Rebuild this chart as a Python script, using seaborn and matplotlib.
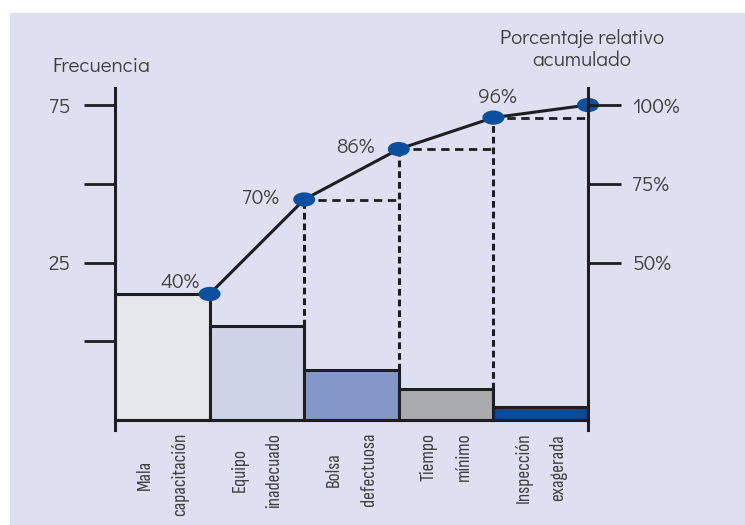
import numpy as np
import seaborn as sns
import matplotlib.pyplot as plt
from matplotlib.patches import Rectangle
from matplotlib.path import Path
from matplotlib.transforms import Affine2D

# datos del diagrama de Pareto
causas = ["Mala\ncapacitación", "Equipo\ninadecuado", "Bolsa\ndefectuosa",
          "Tiempo\nmínimo", "Inspección\nexagerada"]
frecuencia_pct = [40, 30, 16, 10, 4]
acumulado = [40, 70, 86, 96, 100]
etiquetas_acum = ["40%", "70%", "86%", "96%"]

ticks_izq = [25, 50, 75, 100]
etiquetas_izq = ["", "25", "", "75"]
ticks_der = [50, 75, 100]
etiquetas_der = ["50%", "75%", "100%"]

colores = ["#e6e7ea", "#cfd3e8", "#8597c6", "#a9aaac", "#0b4a97"]
fondo = "#dedff0"
tinta = "#1e1e1e"
texto = "#404040"
azul = "#0b4fa0"

sns.set_theme(style="white")
plt.rcParams["font.family"] = ["Didact Gothic", "Urbanist", "DejaVu Sans"]
estrecha = ["Sofia Sans Condensed", "DejaVu Sans"]
tam = 15

fig = plt.figure(figsize=(7.45, 5.25), dpi=100)
fig.patch.set_facecolor("white")
fig.add_artist(Rectangle((10 / 745, 0), 1 - 10 / 745, 1 - 13 / 525,
                         transform=fig.transFigure, facecolor=fondo,
                         edgecolor="none", zorder=0))

ax = fig.add_axes([115 / 745, 1 - 430 / 525, (588 - 115) / 745, (430 - 88) / 525])
ax.set_facecolor("none")

# barras
sns.barplot(x=causas, y=frecuencia_pct, hue=causas, palette=colores,
            width=1, saturation=1, edgecolor=tinta, linewidth=2.2,
            legend=False, ax=ax, zorder=2)

# bordes derechos de cada barra
xs = np.arange(len(causas)) + 0.5

# líneas discontinuas de referencia
for i in range(1, len(causas) - 1):
    ax.plot([xs[i], xs[i]], [frecuencia_pct[i], acumulado[i]], color=tinta,
            lw=2.2, ls=(0, (2.2, 1.3)), zorder=3)
    ax.plot([xs[i], xs[i + 1]], [acumulado[i], acumulado[i]], color=tinta,
            lw=2.0, ls=(0, (3, 2)), zorder=3)

# curva acumulada
sns.lineplot(x=xs, y=acumulado, color=tinta, lw=2.2, ax=ax, zorder=4)
elipse = Path.unit_circle().transformed(Affine2D().scale(1, 0.65))
sns.scatterplot(x=xs, y=acumulado, marker=elipse, s=250, color=azul,
                edgecolor="none", ax=ax, zorder=5, clip_on=False)

desplazamientos = [(-30, 12), (-44, 1), (-43, 2), (4, 20)]
for i, etq in enumerate(etiquetas_acum):
    ax.annotate(etq, (xs[i], acumulado[i]), xytext=desplazamientos[i],
                textcoords="offset pixels", ha="center", va="center",
                fontsize=tam, color=texto)

ax.axhline(0, color=tinta, lw=2.2, zorder=6)
ax.set_xlim(-0.5, 4.5)
ax.set_ylim(-3.17, 105.4)

for s in ["top", "bottom", "right"]:
    ax.spines[s].set_visible(False)
ax.spines["left"].set_linewidth(2.2)
ax.spines["left"].set_color(tinta)

ax.set_yticks(ticks_izq)
ax.set_yticklabels(etiquetas_izq)
ax.tick_params(axis="y", direction="out", length=22, width=2, color=tinta,
               pad=10, labelsize=tam, labelcolor=texto, left=True)
ax.set_xticks(range(len(causas)))
ax.set_xticklabels(causas, rotation=90, ha="center", va="top",
                   multialignment="center", fontsize=14, color=texto,
                   family=estrecha, linespacing=2.2)
ax.tick_params(axis="x", length=0, pad=2)
ax.set_xlabel("")
ax.set_ylabel("")

ax2 = ax.twinx()
ax2.set_ylim(ax.get_ylim())
for s in ["top", "bottom", "left"]:
    ax2.spines[s].set_visible(False)
ax2.spines["right"].set_linewidth(2.2)
ax2.spines["right"].set_color(tinta)
ax2.set_yticks(ticks_der)
ax2.set_yticklabels(etiquetas_der)
ax2.tick_params(axis="y", direction="out", length=24, width=2, color=tinta,
                pad=8, labelsize=tam, labelcolor=texto, right=True)
ax2.grid(False)

fig.text(101 / 745, 1 - 66 / 525, "Frecuencia", ha="center", va="center",
         fontsize=tam, color=texto)
fig.text(582 / 745, 1 - 49 / 525, "Porcentaje relativo\nacumulado",
         ha="center", va="center", fontsize=tam, color=texto)

fig.savefig("out.png", dpi=100, facecolor=fig.get_facecolor())
